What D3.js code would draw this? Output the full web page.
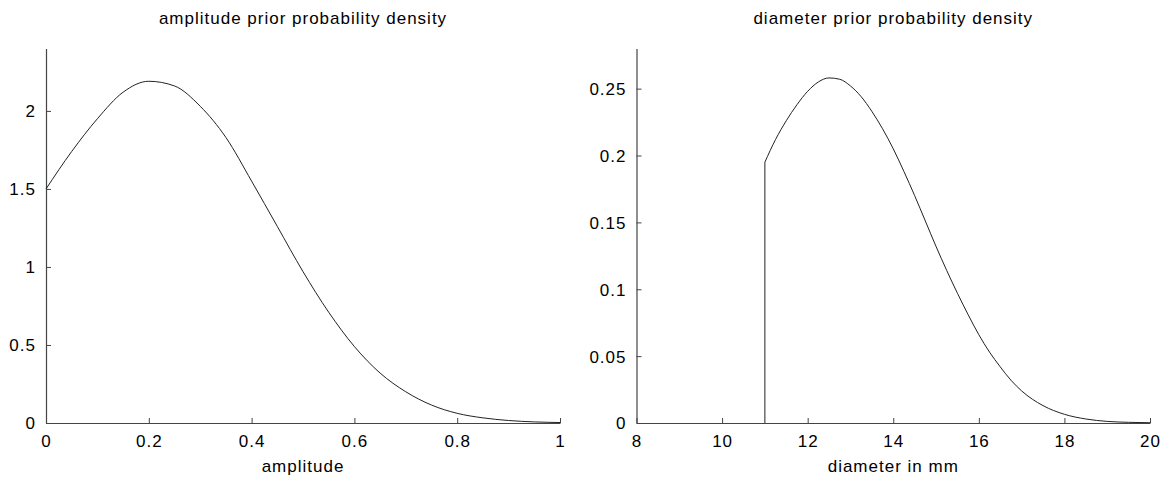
<!DOCTYPE html>
<html>
<head>
<meta charset="utf-8">
<script src="https://cdn.jsdelivr.net/npm/d3@7"></script>
<style>
  body { margin: 0; background: #fff; }
  text { font-family: "Liberation Sans", Arial, Helvetica, sans-serif; fill: #000; }
</style>
</head>
<body>
<svg id="chart" width="1165" height="481"></svg>
<script>
// ---- Data ----
const ampX = [0, 0.05, 0.1, 0.15, 0.2, 0.25, 0.3, 0.35, 0.4, 0.45, 0.5, 0.55, 0.6, 0.65, 0.7, 0.75, 0.8, 0.85, 0.9, 0.95, 1.0];
const ampY = [1.50, 1.74, 1.95, 2.12, 2.19, 2.16, 2.03, 1.83, 1.55, 1.26, 0.97, 0.71, 0.49, 0.32, 0.20, 0.115, 0.062, 0.033, 0.016, 0.007, 0.003];

const diaCut = 11.0;        // lower truncation of diameter prior
const diaCutValue = 0.195;  // density just above the cut
const diaX = [11.0, 11.25, 11.5, 11.75, 12.0, 12.25, 12.5, 12.75, 13.0, 13.25, 13.5, 13.75, 14.0, 14.25, 14.5, 14.75, 15.0, 15.25, 15.5, 15.75, 16.0, 16.25, 16.5, 16.75, 17.0, 17.5, 18.0, 18.5, 19.0, 19.5, 20.0];
const diaY = [0.195, 0.212, 0.226, 0.238, 0.248, 0.255, 0.258, 0.257, 0.252, 0.244, 0.233, 0.220, 0.205, 0.188, 0.170, 0.151, 0.132, 0.114, 0.097, 0.081, 0.066, 0.053, 0.042, 0.032, 0.024, 0.013, 0.0065, 0.003, 0.0012, 0.0005, 0.0002];

const ampXTicks = [0, 0.2, 0.4, 0.6, 0.8, 1];
const ampYTicks = [0, 0.5, 1, 1.5, 2];
const diaXTicks = [8, 10, 12, 14, 16, 18, 20];
const diaYTicks = [0, 0.05, 0.1, 0.15, 0.2, 0.25];

const panels = [
  { title: "amplitude prior probability density", xlabel: "amplitude",
    xs: ampX, ys: ampY, xDomain: [0, 1], yDomain: [0, 2.4],
    xTicks: ampXTicks, yTicks: ampYTicks, left: 46, right: 560, cut: null },
  { title: "diameter prior probability density", xlabel: "diameter in mm",
    xs: diaX, ys: diaY, xDomain: [8, 20], yDomain: [0, 0.28],
    xTicks: diaXTicks, yTicks: diaYTicks, left: 636.5, right: 1150,
    cut: [diaCut, diaCutValue] }
];

const svg = d3.select("#chart");
const plotTop = 48.5, plotBottom = 423;
const fmt = d => String(+d.toFixed(4));

panels.forEach(p => {
  const x = d3.scaleLinear().domain(p.xDomain).range([p.left, p.right]);
  const y = d3.scaleLinear().domain(p.yDomain).range([plotBottom, plotTop]);
  const g = svg.append("g");

  const xAxis = d3.axisBottom(x).tickValues(p.xTicks).tickFormat(fmt).tickSizeInner(-5).tickSizeOuter(0).tickPadding(12);
  const yAxis = d3.axisLeft(y).tickValues(p.yTicks).tickFormat(fmt).tickSizeInner(-5).tickSizeOuter(0).tickPadding(10);

  const gx = g.append("g").attr("transform", `translate(0,${plotBottom})`).call(xAxis);
  const gy = g.append("g").attr("transform", `translate(${p.left},0)`).call(yAxis);
  [gx, gy].forEach(a => {
    a.select(".domain").attr("stroke", "#444").attr("stroke-width", 1.2);
    a.selectAll(".tick line").attr("stroke", "#444").attr("stroke-width", 1);
    a.selectAll(".tick text").attr("font-size", 17).attr("letter-spacing", "1px")
      .attr("font-family", "Liberation Sans, Arial, sans-serif").attr("fill", "#000");
  });
  gx.selectAll(".tick text").attr("dy", "0.71em");
  gy.selectAll(".tick text").attr("dy", "0.35em");

  // vertical jump at truncation point (if any)
  if (p.cut) {
    g.append("line")
      .attr("x1", x(p.cut[0])).attr("x2", x(p.cut[0]))
      .attr("y1", y(0)).attr("y2", y(p.cut[1]))
      .attr("stroke", "#222").attr("stroke-width", 1);
  }

  const line = d3.line().x((d, i) => x(p.xs[i])).y(d => y(d)).curve(d3.curveMonotoneX);
  g.append("path").datum(p.ys).attr("d", line)
    .attr("fill", "none").attr("stroke", "#222").attr("stroke-width", 1);

  g.append("text").attr("x", (p.left + p.right) / 2).attr("y", 24)
    .attr("text-anchor", "middle").attr("font-size", 17).attr("letter-spacing", "1px").text(p.title);
  g.append("text").attr("x", (p.left + p.right) / 2).attr("y", 472)
    .attr("text-anchor", "middle").attr("font-size", 17).attr("letter-spacing", "1px").text(p.xlabel);
});
</script>
</body>
</html>
